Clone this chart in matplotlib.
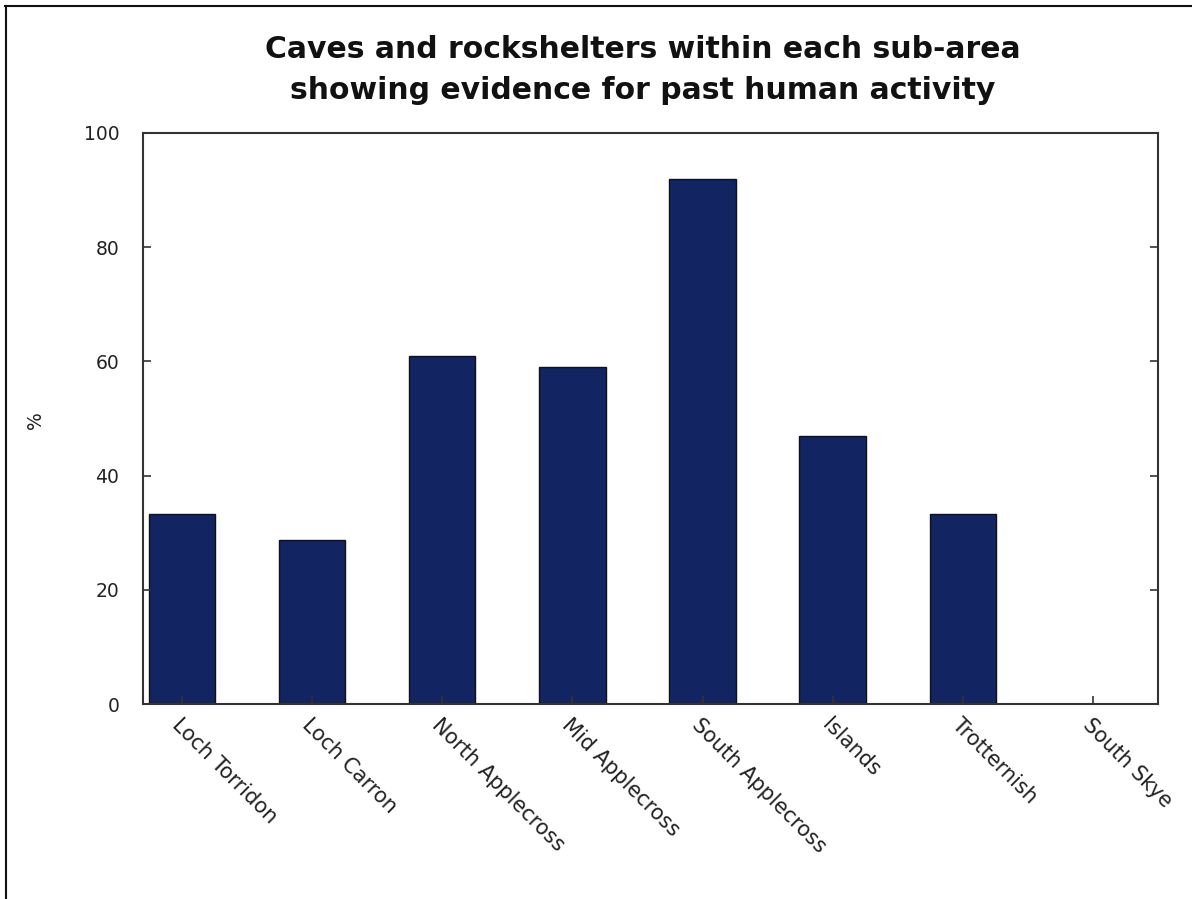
import matplotlib
matplotlib.use("Agg")
import matplotlib.pyplot as plt
from matplotlib.lines import Line2D

categories = ["Loch Torridon", "Loch Carron", "North Applecross", "Mid Applecross",
              "South Applecross", "Islands", "Trotternish", "South Skye"]
values = [33.3, 28.8, 61.0, 59.0, 92.0, 47.0, 33.3, 0.0]
yticks = [0, 20, 40, 60, 80, 100]

fig = plt.figure(figsize=(11.92, 8.99), dpi=100)
ax = fig.add_axes([143/1192, 1 - 704/899, (1158-143)/1192, (704-133)/899])

x = list(range(len(categories)))
ax.bar(x, values, width=0.51, color="#122462", edgecolor="#111111", linewidth=1.0)
ax.set_xlim(-0.3, 7.5)
ax.set_ylim(0, 100)
ax.set_yticks(yticks)
ax.set_yticklabels([str(t) for t in yticks], fontsize=13.5, family="DejaVu Sans", color="#222222")
ax.set_xticks(x)
ax.set_xticklabels(categories, rotation=-45, ha="left", va="top", rotation_mode="anchor",
                   fontsize=15, family="DejaVu Sans", color="#222222")
ax.tick_params(axis="y", direction="in", length=6, width=1.2, left=True, right=True, pad=17, colors="#333333")
ax.tick_params(axis="x", direction="in", length=6, width=1.2, bottom=True, top=False, pad=8, colors="#333333")
for lab in ax.get_xticklabels() + ax.get_yticklabels():
    lab.set_color("#222222")
for s in ax.spines.values():
    s.set_linewidth(1.5)
    s.set_color("#333333")

fig.text(36/1192, 1 - 420/899, "%", rotation=90, ha="center", va="center",
         fontsize=13.5, family="DejaVu Sans", color="#222222")

fig.text(643/1192, 1 - 70/899, "Caves and rockshelters within each sub-area\nshowing evidence for past human activity",
         ha="center", va="center", fontsize=21.5, fontweight="bold", family="DejaVu Sans",
         color="#111111", linespacing=1.5)

# figure frame (left and top edges)
fig.add_artist(Line2D([6/1192, 6/1192], [0, 1 - 6/899], transform=fig.transFigure, color="#111111", linewidth=1.5))
fig.add_artist(Line2D([5/1192, 1.0], [1 - 6/899, 1 - 6/899], transform=fig.transFigure, color="#111111", linewidth=1.5))

fig.savefig("out.png", dpi=100)
